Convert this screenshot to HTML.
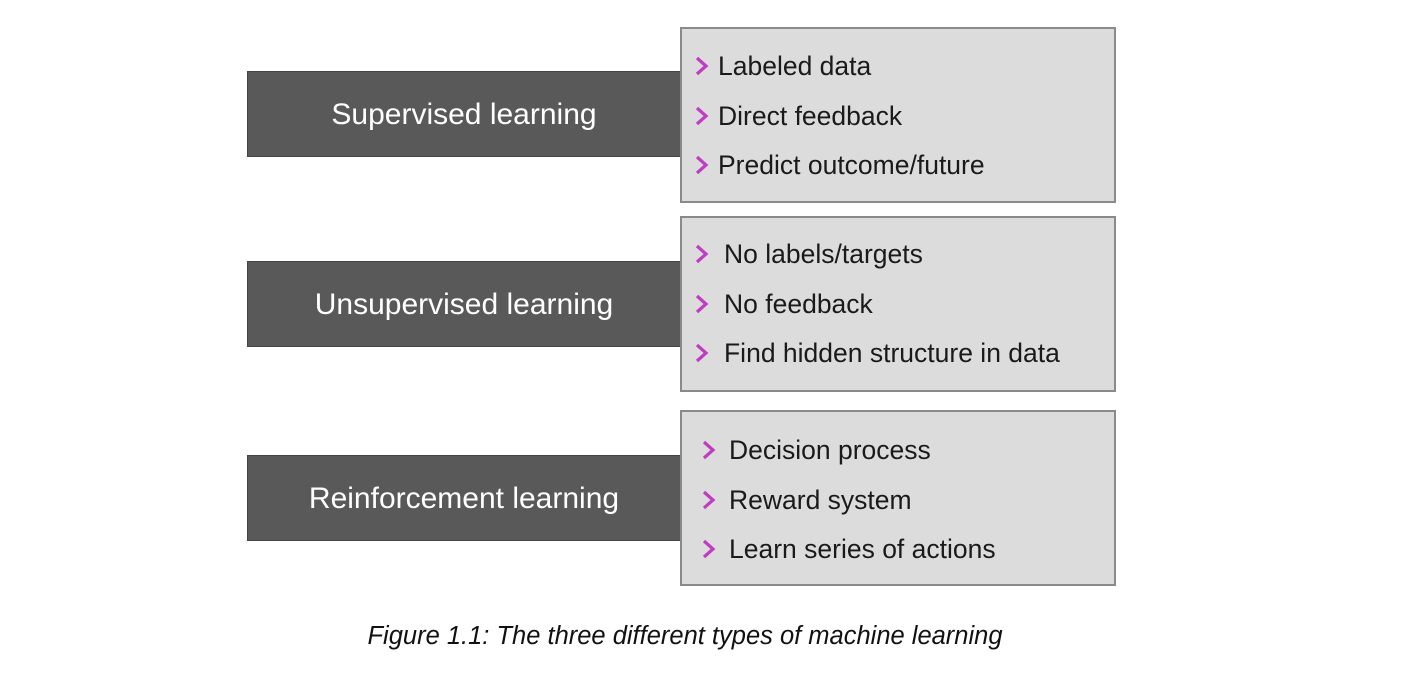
<!DOCTYPE html>
<html><head><style>
body{margin:0;width:1412px;height:692px;background:#fff;position:relative;font-family:"Liberation Sans",sans-serif;overflow:hidden}
.d{position:absolute;left:247px;width:434px;height:86px;background:#595959;color:#fff;font-size:30px;display:flex;align-items:center;justify-content:center;border:1px solid #444;box-sizing:border-box;padding-top:2px}
.l{position:absolute;left:680px;width:436px;height:176px;background:#dcdcdc;border:2px solid #8a8a8a;box-sizing:border-box}
.t{position:absolute;font-size:26.5px;color:#1a1a1a;line-height:26px;white-space:nowrap}
.cap{position:absolute;left:0;width:1370px;top:622px;text-align:center;font-style:italic;font-size:25.5px;color:#111}
</style></head><body>
<div class="d" style="top:71px">Supervised learning</div>
<div class="d" style="top:261px">Unsupervised learning</div>
<div class="d" style="top:455px">Reinforcement learning</div>
<div class="l" style="top:27px"></div>
<div class="l" style="top:216px"></div>
<div class="l" style="top:410px"></div>

<svg width="1412" height="692" style="position:absolute;left:0;top:0" fill="none" stroke="#c03cc0" stroke-width="3.2">
<polyline points="697,58 706,66 697,74"/>
<polyline points="697,108 706,116 697,124"/>
<polyline points="697,157 706,165 697,173"/>
<polyline points="697,246 706,254 697,262"/>
<polyline points="697,296 706,304 697,312"/>
<polyline points="697,345 706,353 697,361"/>
<polyline points="704,442 713,450 704,458"/>
<polyline points="704,492 713,500 704,508"/>
<polyline points="704,541 713,549 704,557"/>
</svg>

<div class="t" style="left:718px;top:53px">Labeled data</div>
<div class="t" style="left:718px;top:103px">Direct feedback</div>
<div class="t" style="left:718px;top:152px">Predict outcome/future</div>

<div class="t" style="left:724px;top:241px">No labels/targets</div>
<div class="t" style="left:724px;top:291px">No feedback</div>
<div class="t" style="left:724px;top:340px">Find hidden structure in data</div>

<div class="t" style="left:729px;top:437px">Decision process</div>
<div class="t" style="left:729px;top:487px">Reward system</div>
<div class="t" style="left:729px;top:536px">Learn series of actions</div>

<div class="cap">Figure 1.1: The three different types of machine learning</div>
</body></html>
